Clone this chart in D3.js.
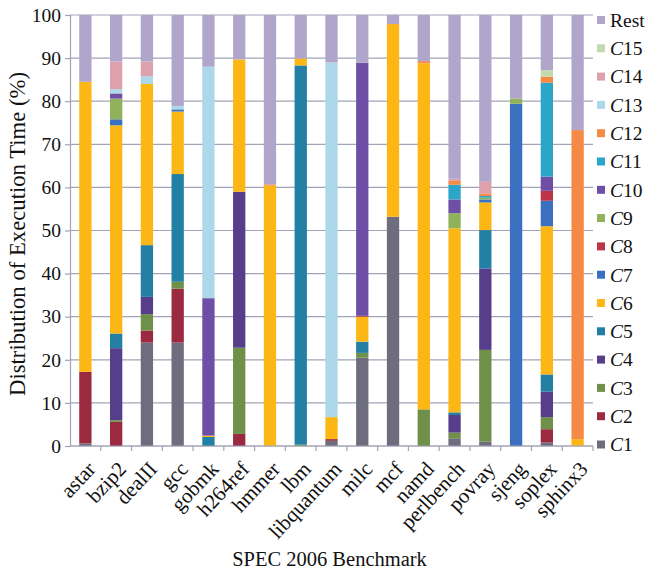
<!DOCTYPE html>
<html>
<head>
<meta charset="utf-8">
<script src="https://cdn.jsdelivr.net/npm/d3@7"></script>
<style>
  html, body { margin: 0; padding: 0; background: #fff; }
  svg { display: block; font-family: "Liberation Serif", "Times New Roman", serif; }
</style>
</head>
<body>
<script>
// Benchmarks along the x axis
const benchmarks = ["astar", "bzip2", "dealII", "gcc", "gobmk", "h264ref", "hmmer", "lbm",
  "libquantum", "milc", "mcf", "namd", "perlbench", "povray", "sjeng", "soplex", "sphinx3"];

// Share of execution time (%) per cluster, one value per benchmark
const C1   = [0.6, 0, 24.0, 24.0, 0, 0, 0, 0, 1.2, 20.5, 53.2, 0, 1.8, 1.0, 0, 0.8, 0];
const C2   = [16.6, 5.6, 2.8, 12.5, 0, 2.8, 0, 0, 0.4, 0, 0, 0, 0, 0, 0, 3.1, 0];
const C3   = [0, 0.4, 3.8, 1.6, 0, 20.0, 0, 0.3, 0, 1.1, 0, 8.5, 1.3, 21.3, 0, 2.8, 0];
const C4   = [0, 16.7, 4.0, 0, 0, 36.2, 0, 0, 0, 0, 0, 0, 4.1, 18.9, 0, 5.9, 0];
const C5   = [0, 3.4, 12.0, 25.0, 2.1, 0, 0, 88.0, 0, 2.6, 0, 0, 0.6, 8.9, 0, 4.0, 0];
const C6   = [67.3, 48.3, 37.4, 14.5, 0.3, 30.7, 60.4, 1.6, 5.1, 5.8, 44.7, 80.3, 42.7, 6.4, 0, 34.4, 1.6];
const C7   = [0, 1.4, 0, 0.5, 0, 0, 0, 0, 0, 0, 0, 0, 0, 0.7, 79.4, 5.9, 0];
const C8   = [0, 0, 0, 0, 0, 0, 0, 0, 0, 0.2, 0, 0, 0, 0, 0, 2.3, 0];
const C9   = [0, 4.8, 0, 0, 0, 0, 0, 0, 0, 0, 0, 0, 3.5, 0.4, 1.2, 0, 0];
const C10  = [0, 1.2, 0, 0, 31.9, 0, 0, 0, 0, 58.7, 0, 0, 3.2, 0, 0, 3.3, 0];
const C11  = [0, 0, 0, 0, 0, 0, 0, 0, 0, 0, 0, 0, 3.4, 0.4, 0, 21.8, 0];
const C12  = [0, 0, 0, 0, 0, 0, 0.3, 0, 0, 0, 0, 0.5, 0.9, 0.6, 0, 1.4, 71.7];
const C13  = [0, 1.0, 1.8, 0.8, 53.7, 0, 0, 0, 82.3, 0, 0, 0, 0, 0, 0, 0, 0];
const C14  = [0, 6.4, 3.4, 0, 0, 0, 0, 0, 0, 0, 0, 0, 0.5, 2.7, 0, 0, 0];
const C15  = [0, 0, 0, 0, 0, 0, 0, 0, 0, 0, 0, 0, 0, 0, 0, 1.5, 0];
const Rest = [15.5, 10.8, 10.8, 21.1, 12.0, 10.3, 39.3, 10.1, 11.0, 11.1, 2.1, 10.7, 38.0, 38.7, 19.4, 12.8, 26.7];

// Stack order, bottom to top
const seriesKeys = ["C1", "C2", "C3", "C4", "C5", "C6", "C7", "C8", "C9", "C10",
  "C11", "C12", "C13", "C14", "C15", "Rest"];
const seriesValues = [C1, C2, C3, C4, C5, C6, C7, C8, C9, C10, C11, C12, C13, C14, C15, Rest];
const seriesColors = ["#6e6d7e", "#9b2a40", "#6e9048", "#563e8b", "#237fa3", "#fdb714",
  "#3b70c0", "#bd3347", "#8fb25a", "#6f4fa6", "#2ba6c9", "#f58a46", "#acd8e9", "#dca1ac",
  "#c3d9b0", "#b0a6cc"];

const yTicks = [0, 10, 20, 30, 40, 50, 60, 70, 80, 90, 100];

// table for d3.stack
const rows = benchmarks.map((b, i) => {
  const r = {name: b};
  seriesKeys.forEach((k, j) => { r[k] = seriesValues[j][i]; });
  return r;
});

const width = 652, height = 576;
const margin = {top: 15, right: 59, bottom: 130, left: 70};
const innerW = width - margin.left - margin.right;
const innerH = height - margin.top - margin.bottom;
const gridColor = "#a3a3b8";

const svg = d3.select("body").append("svg")
  .attr("width", width).attr("height", height)
  .attr("viewBox", [0, 0, width, height]);

const g = svg.append("g").attr("transform", `translate(${margin.left},${margin.top})`);

const x = d3.scaleBand().domain(benchmarks).range([0, innerW])
  .paddingInner(0.6).paddingOuter(0.3);
const y = d3.scaleLinear().domain([0, 100]).range([innerH, 0]);
const color = d3.scaleOrdinal().domain(seriesKeys).range(seriesColors);

// Grid lines
g.append("g").selectAll("line").data(yTicks).join("line")
  .attr("x1", 0).attr("x2", innerW)
  .attr("y1", d => y(d)).attr("y2", d => y(d))
  .attr("stroke", gridColor).attr("stroke-width", 1.2);

// Y axis
const yAxisG = g.append("g")
  .call(d3.axisLeft(y).tickValues(yTicks).tickSize(5).tickPadding(4));
yAxisG.attr("font-family", null);
yAxisG.select(".domain").attr("stroke", gridColor).attr("stroke-width", 1.2);
yAxisG.selectAll(".tick line").attr("stroke", gridColor).attr("stroke-width", 1.2);
yAxisG.selectAll("text").attr("fill", "#111")
  .style("font-size", "19.5px").style("font-family", "Liberation Serif");

// Bars
const stacked = d3.stack().keys(seriesKeys)(rows);
g.append("g").selectAll("g").data(stacked).join("g")
  .attr("fill", d => color(d.key))
  .selectAll("rect").data(d => d).join("rect")
  .attr("x", d => x(d.data.name))
  .attr("width", x.bandwidth())
  .attr("y", d => y(d[1]))
  .attr("height", d => Math.max(0, y(d[0]) - y(d[1])));

// X axis: ticks at band boundaries
const step = x.step();
const bounds = benchmarks.map(b => x(b) + x.bandwidth() / 2 + step / 2);
const xAxisG = g.append("g").attr("transform", `translate(0,${innerH})`);
xAxisG.append("line").attr("x1", 0).attr("x2", innerW)
  .attr("stroke", gridColor).attr("stroke-width", 1.2);
xAxisG.selectAll("line.tk").data(bounds).join("line").attr("class", "tk")
  .attr("x1", d => d).attr("x2", d => d).attr("y1", 0).attr("y2", 5)
  .attr("stroke", gridColor).attr("stroke-width", 1.2);
xAxisG.selectAll("text").data(benchmarks).join("text")
  .attr("transform", d => `translate(${x(d) + x.bandwidth() / 2 + 6},${19}) rotate(-47)`)
  .attr("text-anchor", "end")
  .attr("dy", "0.35em")
  .style("font-size", "21px")
  .attr("fill", "#111")
  .text(d => d);

// Axis titles
svg.append("text")
  .attr("transform", `translate(25,234) rotate(-90)`)
  .attr("text-anchor", "middle")
  .style("font-size", "22.7px").attr("fill", "#111")
  .text("Distribution of Execution Time (%)");

svg.append("text")
  .attr("x", margin.left + innerW / 2 - 2).attr("y", 566)
  .attr("text-anchor", "middle")
  .style("font-size", "20.5px").attr("fill", "#111")
  .text("SPEC 2006 Benchmark");

// Legend (top: Rest, bottom: C1)
const legendKeys = seriesKeys.slice().reverse();
const legend = svg.append("g").attr("transform", "translate(597,20)");
const row = legend.selectAll("g").data(legendKeys).join("g")
  .attr("transform", (d, i) => `translate(0,${i * 28.3})`);
row.append("rect").attr("x", 0).attr("y", -4).attr("width", 8).attr("height", 8)
  .attr("fill", d => color(d));
const lt = row.append("text").attr("x", 13).attr("dy", "0.35em")
  .style("font-size", "19.5px").attr("fill", "#111");
lt.each(function(d) {
  const t = d3.select(this);
  if (d === "Rest") { t.text("Rest"); return; }
  t.append("tspan").style("font-style", "italic").text("C");
  t.append("tspan").text(d.slice(1));
});
</script>
</body>
</html>
